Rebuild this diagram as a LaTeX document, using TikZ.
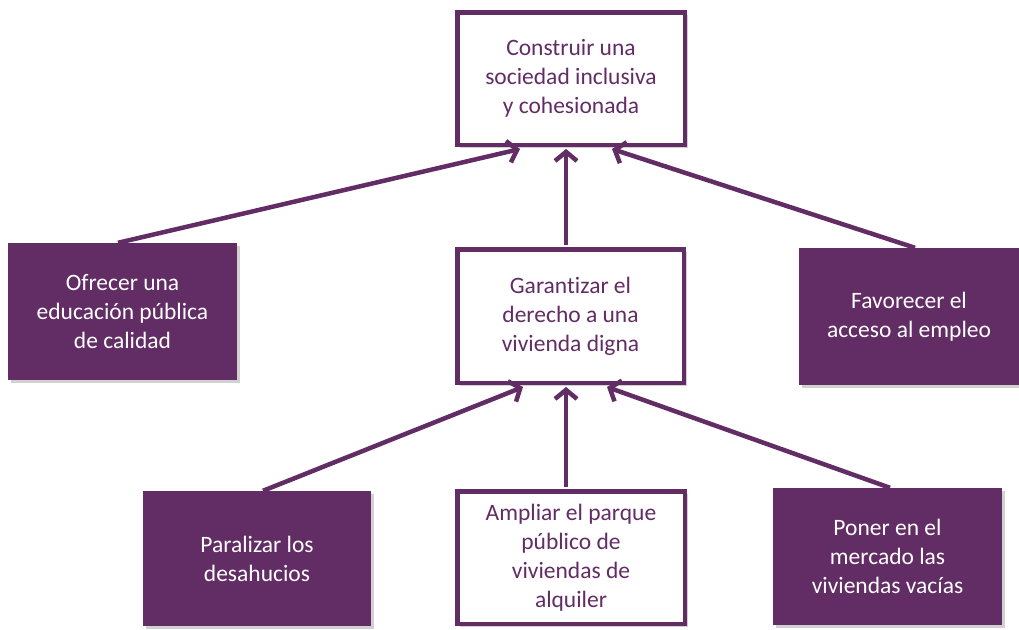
\documentclass[tikz,border=0pt]{standalone}
\usepackage{fontspec}
\setmainfont{Carlito}[Ligatures=NoCommon]
\usetikzlibrary{arrows.meta,shadows}
\definecolor{plum}{RGB}{98,44,100}
\tikzset{
  boxbase/.style={rectangle, align=center, inner sep=2pt,
    font=\fontsize{23.5}{29}\selectfont,
    drop shadow={shadow xshift=3pt, shadow yshift=-3pt, opacity=0.18, fill=black}},
  openbox/.style={boxbase, draw=plum, line width=4.5pt, fill=white, text=plum,
    minimum width=#1-4.5pt},
  openbox/.default=228pt,
  solidbox/.style={boxbase, fill=plum, text=white, minimum width=#1},
  solidbox/.default=229pt,
  arr/.style={draw=plum, line width=4.5pt, -{Straight Barb[length=9pt,width=22pt]}},
}
\begin{document}
\begin{tikzpicture}[x=1pt,y=-1pt]
\useasboundingbox (0,0) rectangle (1019,629);
\node[openbox=232pt, minimum height=132.5pt] (top) at (571,78.5)
  {Construir una\\sociedad inclusiva\\y cohesionada};
\node[openbox=231pt, minimum height=133.5pt] (mid) at (570.5,316)
  {Garantizar el\\derecho a una\\vivienda digna};
\node[solidbox=229pt, minimum height=137pt] (lb) at (122.5,311.5)
  {Ofrecer una\\educación pública\\de calidad};
\node[solidbox=220pt, minimum height=137pt] (rb) at (909,316.5)
  {Favorecer el\\acceso al empleo};
\node[solidbox=228pt, minimum height=135pt] (bl) at (257,558.5)
  {Paralizar los\\desahucios};
\node[openbox=232pt, minimum height=132.5pt] (bm) at (571,557.5)
  {Ampliar el parque\\público de\\viviendas de\\alquiler};
\node[solidbox=229pt, minimum height=137pt] (br) at (887.5,556.5)
  {Poner en el\\mercado las\\viviendas vacías};
\draw[arr] ([xshift=-4.5pt]lb.north) -- ([xshift=-51pt,yshift=-2pt]top.south);
\draw[arr] ([xshift=-4.5pt,yshift=2pt]mid.north) -- ([xshift=-5pt,yshift=-2pt]top.south);
\draw[arr] ([xshift=6pt]rb.north) -- ([xshift=41pt,yshift=-2pt]top.south);
\draw[arr] ([xshift=6pt]bl.north) -- ([xshift=-47.5pt,yshift=-2pt]mid.south);
\draw[arr] ([xshift=-5pt,yshift=2pt]bm.north) -- ([xshift=-4.5pt,yshift=-2pt]mid.south);
\draw[arr] ([xshift=2.5pt]br.north) -- ([xshift=36.5pt,yshift=-2pt]mid.south);
\end{tikzpicture}
\end{document}
